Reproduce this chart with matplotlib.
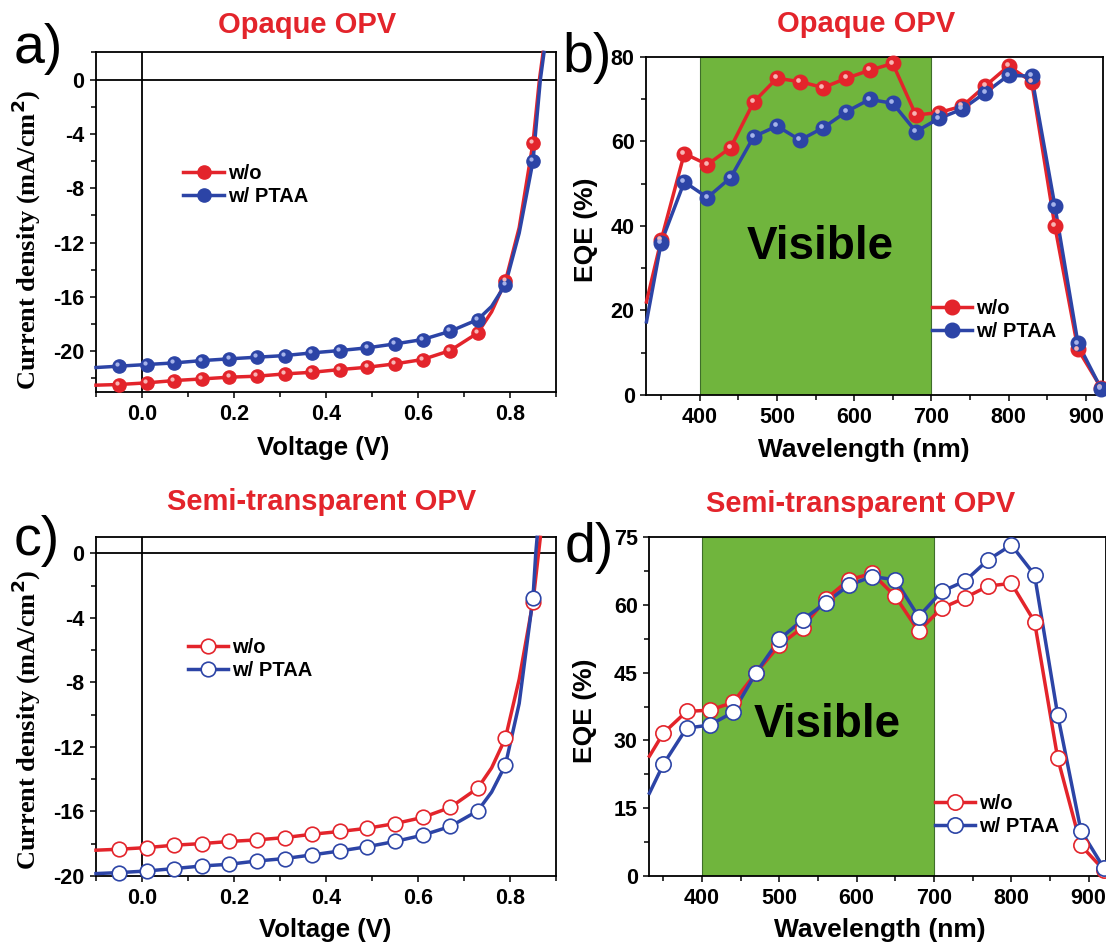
import numpy as np
import matplotlib
matplotlib.use("Agg")
import matplotlib.pyplot as plt
from matplotlib.ticker import MultipleLocator, FormatStrFormatter
from matplotlib.transforms import offset_copy

plt.rcParams['font.family'] = ['Liberation Sans', 'DejaVu Sans']
plt.rcParams['font.weight'] = 'bold'
plt.rcParams['axes.unicode_minus'] = False

RED = '#e3242b'
BLUE = '#2c44a6'
GREEN = '#70b53d'

# ---- J-V data (panels a, c) ----
volt = [-0.05, 0.01, 0.07, 0.13, 0.19, 0.25, 0.31, 0.37, 0.43, 0.49, 0.55, 0.61, 0.67, 0.73, 0.79, 0.85]

a_red = [-22.45, -22.33, -22.16, -22.04, -21.91, -21.84, -21.67, -21.55, -21.35, -21.18, -20.93, -20.61, -19.95, -18.65, -14.85, -4.66]
a_blue = [-21.10, -20.98, -20.86, -20.69, -20.56, -20.44, -20.32, -20.12, -19.95, -19.75, -19.46, -19.14, -18.53, -17.67, -15.09, -6.01]
# extra points (ends and knee)
a_red_xv = [-0.1, 0.76, 0.82, 0.864, 0.872]
a_red_xj = [-22.5, -17.1, -10.9, 0.0, 2.0]
a_blue_xv = [-0.1, 0.76, 0.82, 0.866, 0.874]
a_blue_xj = [-21.2, -16.7, -11.3, 0.0, 2.0]

c_red = [-18.34, -18.24, -18.09, -17.99, -17.86, -17.76, -17.62, -17.41, -17.24, -17.04, -16.75, -16.37, -15.75, -14.55, -11.46, -3.0]
c_blue = [-19.79, -19.69, -19.54, -19.38, -19.27, -19.07, -18.92, -18.69, -18.45, -18.18, -17.86, -17.47, -16.93, -15.96, -13.12, -2.74]
c_red_xv = [-0.1, 0.76, 0.82, 0.862, 0.866]
c_red_xj = [-18.4, -13.3, -7.8, 0.0, 1.0]
c_blue_xv = [-0.1, 0.76, 0.82, 0.856, 0.859]
c_blue_xj = [-19.85, -14.8, -9.3, 0.0, 1.0]

# ---- EQE data (panels b, d) ----
wl = [350, 380, 410, 440, 470, 500, 530, 560, 590, 620, 650, 680, 710, 740, 770, 800, 830, 860, 890, 920]

b_red = [36.6, 57.1, 54.5, 58.5, 69.3, 74.9, 74.1, 72.7, 74.9, 76.8, 78.4, 66.2, 66.8, 68.3, 73.1, 77.8, 74.1, 40.0, 10.8, 1.7]
b_blue = [36.0, 50.4, 46.7, 51.4, 61.1, 63.6, 60.3, 63.2, 67.0, 69.9, 69.0, 62.3, 65.4, 67.6, 71.5, 75.6, 75.4, 44.8, 12.2, 1.5]
b_start = [331, 22.0, 17.3]   # wavelength, red, blue at left edge

d_red = [31.6, 36.4, 36.7, 38.4, 45.0, 51.1, 55.0, 61.3, 65.6, 67.0, 61.9, 54.2, 59.3, 61.6, 64.2, 64.8, 56.3, 26.0, 6.7, 1.2]
d_blue = [24.7, 32.7, 33.4, 36.2, 45.0, 52.4, 56.7, 60.5, 64.4, 66.3, 65.6, 57.4, 63.0, 65.3, 70.0, 73.3, 66.7, 35.6, 10.0, 1.6]
d_start = [332, 26.5, 18.3]

labels = ['w/o', 'w/ PTAA']


def merge(x, y, xe, ye):
    xx = np.concatenate([x, xe])
    yy = np.concatenate([y, ye])
    o = np.argsort(xx)
    return xx[o], yy[o]


def style(ax):
    for s in ax.spines.values():
        s.set_linewidth(1.3)
    ax.tick_params(which='both', direction='out', width=1.1, labelsize=15.5,
                   top=False, right=False)
    ax.tick_params(which='major', length=4.5, pad=4)
    ax.tick_params(which='minor', length=3.5)
    for t in ax.get_xticklabels() + ax.get_yticklabels():
        t.set_fontweight('bold')


def series(ax, xm, ym, xl, yl, color, label, filled, ms):
    ax.plot(xl, yl, '-', color=color, lw=2.5, zorder=3, clip_on=False)
    if filled:
        ax.plot(xm, ym, 'o', color=color, mec=color, ms=ms, zorder=4, clip_on=False)
        # glossy highlight, shifted up-left a little
        light = '#f8b4b4' if color == RED else '#a5b2ea'
        tr = offset_copy(ax.transData, fig=ax.figure, x=-1.3, y=1.3, units='points')
        ax.plot(xm, ym, 'o', color=light, mec='none', ms=ms * 0.32, zorder=5,
                clip_on=False, transform=tr)
        h = ax.plot([], [], '-o', color=color, mec=color, ms=ms, lw=2.5, label=label)
    else:
        ax.plot(xm, ym, 'o', mfc='white', mec=color, mew=1.2, ms=ms, zorder=4, clip_on=False)
        h = ax.plot([], [], '-o', color=color, mfc='white', mec=color, mew=1.2, ms=ms, lw=2.5, label=label)
    return h


fig = plt.figure(figsize=(11.06, 9.5), dpi=100)

ax_a = fig.add_axes([0.0868, 0.5874, 0.4159, 0.3574])
ax_b = fig.add_axes([0.5845, 0.5842, 0.4132, 0.3561])
ax_c = fig.add_axes([0.0868, 0.0779, 0.4159, 0.3565])
ax_d = fig.add_axes([0.5872, 0.0782, 0.4132, 0.3562])

# ---- J-V panels ----
for ax, red, blue, rx, rj, bx, bj, ylim, filled, ms, lpos in [
        (ax_a, a_red, a_blue, a_red_xv, a_red_xj, a_blue_xv, a_blue_xj, (-23, 2), True, 9.5, (0.19, 0.61)),
        (ax_c, c_red, c_blue, c_red_xv, c_red_xj, c_blue_xv, c_blue_xj, (-20, 1), False, 10.5, (0.2, 0.64))]:
    ax.axhline(0, color='black', lw=1.3, zorder=2)
    ax.axvline(0, color='black', lw=1.3, zorder=2)
    xl, yl = merge(volt, red, rx, rj)
    h1 = series(ax, volt, red, xl, yl, RED, labels[0], filled, ms)
    xl, yl = merge(volt, blue, bx, bj)
    h2 = series(ax, volt, blue, xl, yl, BLUE, labels[1], filled, ms)
    ax.set_xlim(-0.1, 0.9)
    ax.set_ylim(*ylim)
    ax.xaxis.set_major_locator(MultipleLocator(0.2))
    ax.xaxis.set_minor_locator(MultipleLocator(0.1))
    ax.xaxis.set_major_formatter(FormatStrFormatter('%.1f'))
    ax.yaxis.set_major_locator(MultipleLocator(4))
    ax.yaxis.set_minor_locator(MultipleLocator(2))
    style(ax)
    ax.set_xlabel('Voltage (V)', fontsize=18.5, fontweight='bold')
    ax.set_ylabel('Current density (mA/cm$^\\mathbf{2}$)', fontsize=19, fontweight='bold',
                  family='Liberation Serif')
    ax.legend(handles=h1 + h2, loc='center left', bbox_to_anchor=lpos, frameon=False,
              prop={'size': 14.5, 'weight': 'bold'}, handlelength=2.0, handletextpad=0.2,
              labelspacing=0.2, borderpad=0, borderaxespad=0)

ax_a.xaxis.set_label_coords(0.493, -0.13)
ax_a.yaxis.set_label_coords(-0.115, 0.448)
ax_c.xaxis.set_label_coords(0.498, -0.124)
ax_c.yaxis.set_label_coords(-0.115, 0.46)

# ---- EQE panels ----
for ax, red, blue, start, ylim, ystep, filled, ms, lpos, vis in [
        (ax_b, b_red, b_blue, b_start, (0, 80), 20, True, 10.5, (0.625, 0.222), (556, 35)),
        (ax_d, d_red, d_blue, d_start, (0, 75), 15, False, 11, (0.625, 0.178), (562, 33.4))]:
    ax.axvspan(400, 700, facecolor=GREEN, edgecolor='#3f6e2a', lw=0.8, zorder=1)
    ax.text(vis[0], vis[1], 'Visible', ha='center', va='center', fontsize=33,
            fontweight='bold', color='black', zorder=2)
    xl, yl = merge(wl, red, [start[0]], [start[1]])
    h1 = series(ax, wl, red, xl, yl, RED, labels[0], filled, ms)
    xl, yl = merge(wl, blue, [start[0]], [start[2]])
    h2 = series(ax, wl, blue, xl, yl, BLUE, labels[1], filled, ms)
    ax.set_xlim(start[0], 923)
    ax.set_ylim(*ylim)
    ax.xaxis.set_major_locator(MultipleLocator(100))
    ax.xaxis.set_minor_locator(MultipleLocator(50))
    ax.yaxis.set_major_locator(MultipleLocator(ystep))
    ax.yaxis.set_minor_locator(MultipleLocator(ystep / 2))
    style(ax)
    ax.set_xlabel('Wavelength (nm)', fontsize=19, fontweight='bold')
    ax.set_ylabel('EQE (%)', fontsize=19, fontweight='bold')
    ax.legend(handles=h1 + h2, loc='center left', bbox_to_anchor=lpos, frameon=False,
              prop={'size': 14.5, 'weight': 'bold'}, handlelength=2.0, handletextpad=0.2,
              labelspacing=0.2, borderpad=0, borderaxespad=0)

ax_b.xaxis.set_label_coords(0.475, -0.127)
ax_b.yaxis.set_label_coords(-0.106, 0.488)
ax_d.xaxis.set_label_coords(0.505, -0.125)
ax_d.yaxis.set_label_coords(-0.115, 0.487)

# ---- titles and panel letters ----
W, H = 1106, 950
for x, y, s in [(307, 33, 'Opaque OPV'), (866, 32, 'Opaque OPV'),
                (322, 510, 'Semi-transparent OPV'), (861, 512, 'Semi-transparent OPV')]:
    fig.text(x / W, 1 - y / H, s, ha='center', va='baseline', fontsize=21,
             fontweight='bold', color=RED)
for x, y, s in [(14, 63, 'a)'), (562, 72, 'b)'), (14, 555, 'c)'), (565, 562, 'd)')]:
    fig.text(x / W, 1 - y / H, s, ha='left', va='baseline', fontsize=40,
             fontweight='normal', color='black')

fig.savefig('out.png', dpi=100)
